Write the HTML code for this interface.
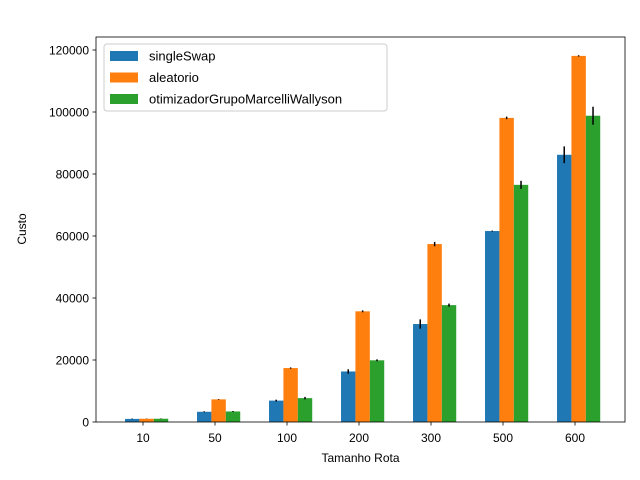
<!DOCTYPE html>
<html><head><meta charset="utf-8"><style>
body{margin:0;background:#fff;}
svg{display:block;font-family:"Liberation Sans","DejaVu Sans",sans-serif;}
</style></head><body>
<svg id="chart" width="640" height="480" viewBox="0 0 640 480" xmlns="http://www.w3.org/2000/svg"></svg>
<script>
const categories = ["10","50","100","200","300","500","600"];
const seriesNames = ["singleSwap","aleatorio","otimizadorGrupoMarcelliWallyson"];
const singleSwap = [1000,3300,6900,16300,31600,61600,86200];
const aleatorio = [1050,7300,17400,35700,57400,98100,118100];
const otimizador = [1050,3400,7700,19900,37700,76500,98800];
const singleSwapErr = [100,150,300,700,1500,150,2700];
const aleatorioErr = [50,100,200,300,700,400,200];
const otimizadorErr = [80,150,400,300,500,1300,2900];
const yTicks = [0,20000,40000,60000,80000,100000,120000];
const colors = ["#1f77b4","#ff7f0e","#2ca02c"];

const NS="http://www.w3.org/2000/svg";
const svg=document.getElementById('chart');
const L=96,R=625,T=37,B=422;
const xMin=-0.653,xMax=6.694,yMax=(B-T)/62*20000;
const xS=v=>L+(v-xMin)/(xMax-xMin)*(R-L);
const yS=v=>B-v/yMax*(B-T);
function mk(tag,attrs,parent){const e=document.createElementNS(NS,tag);for(const k in attrs)e.setAttribute(k,attrs[k]);(parent||svg).appendChild(e);return e;}

const all=[singleSwap,aleatorio,otimizador];
const errs=[singleSwapErr,aleatorioErr,otimizadorErr];
const bw=0.2, shift=0.05;
all.forEach((vals,s)=>{
  vals.forEach((v,i)=>{
    const c=i+(s-1)*bw+shift;
    const r=mk('rect',{x:xS(c-bw/2),y:yS(v),width:xS(c+bw/2)-xS(c-bw/2),height:yS(0)-yS(v),fill:colors[s]});
    
    
  });
});
all.forEach((vals,s)=>{
  vals.forEach((v,i)=>{
    const c=i+(s-1)*bw+shift;const e=errs[s][i];
    const l=mk('line',{x1:xS(c),x2:xS(c),y1:yS(v-e),y2:yS(v+e),stroke:'#000','stroke-width':1.5});
    
    
  });
});
const frame=mk('rect',{x:L,y:T,width:R-L,height:B-T,fill:'none',stroke:'#000','stroke-width':0.8});


categories.forEach((c,i)=>{
  const x=xS(i);
  mk('line',{x1:x,x2:x,y1:B,y2:B+3.5,stroke:'#000','stroke-width':0.8});
  const t=mk('text',{x:x,y:B+20,'text-anchor':'middle','font-size':12,fill:'#000'});
  t.textContent=c;
  
  
});
yTicks.forEach(v=>{
  const y=yS(v);
  mk('line',{x1:L-3.5,x2:L,y1:y,y2:y,stroke:'#000','stroke-width':0.8});
  const t=mk('text',{x:L-7,y:y+4.5,'text-anchor':'end','font-size':12,fill:'#000'});
  t.textContent=String(v);
  
  
});
const xt=mk('text',{x:(L+R)/2,y:462,'text-anchor':'middle','font-size':12});
xt.textContent='Tamanho Rota';


const yt=mk('text',{x:0,y:0,'text-anchor':'middle','font-size':12,transform:'translate(26,229) rotate(-90)'});
yt.textContent='Custo';


const lg=mk('g',{});


mk('rect',{x:104,y:44,width:283,height:67,rx:3,fill:'#fff','fill-opacity':0.8,stroke:'#ccc','stroke-width':1},lg);
seriesNames.forEach((n,s)=>{
  const y=56+s*21.5;
  const p=mk('rect',{x:110,y:y-5,width:28,height:10,fill:colors[s]},lg);
  
  
  const t=mk('text',{x:149,y:y+4.5,'font-size':13},lg);
  t.textContent=n;
  
  
});
</script>
</body></html>
